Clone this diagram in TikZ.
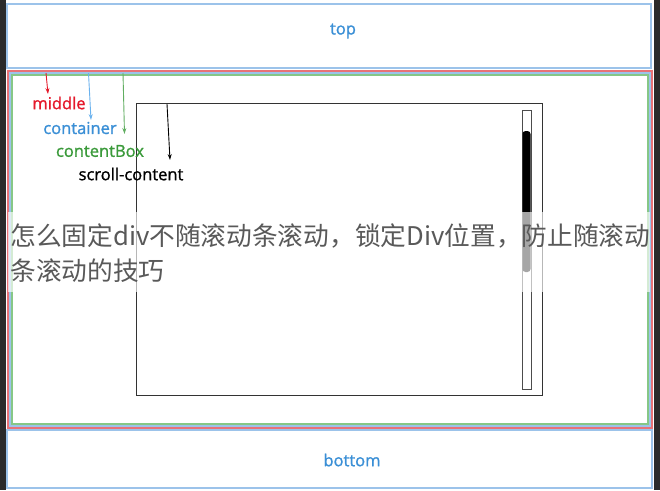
\documentclass[tikz,border=0pt]{standalone}
\usepackage{fontspec}
\usepackage{tikz}
\usetikzlibrary{arrows.meta, positioning}
\newfontfamily\labelfont[FakeBold=1.2]{Open Sans}
\newfontfamily\cjkfont{Noto Sans CJK SC}
\definecolor{frameblue}{HTML}{9CC3EA}
\definecolor{framered}{HTML}{E87277}
\definecolor{framegreen}{HTML}{86C786}
\definecolor{textblue}{HTML}{3A8FD6}
\definecolor{arrowblue}{HTML}{6AB2EE}
\definecolor{textred}{HTML}{E5192B}
\definecolor{textgreen}{HTML}{3A9A3A}
\definecolor{darkbg}{HTML}{2B2B2B}

\begin{document}
\begin{tikzpicture}[x=1pt, y=-1pt, ->, >={Stealth[length=6pt, width=4pt]}, semithick,
		box/.style={draw, rectangle, inner sep=0pt, outer sep=0pt, line width=1.2pt},
		lbl/.style={inner sep=0pt, font=\labelfont\fontsize{16.5}{18}\selectfont}]
		\useasboundingbox (0,0) rectangle (660,490);
		\fill[darkbg] (0,0) rectangle (660,490);
		\fill[white] (6,0) rectangle (654,490);

		% outer boxes
		\node[box, draw=frameblue, minimum width=644pt, minimum height=64pt]	(top) at (329,36) {};
		\node[box, draw=framered, minimum width=644pt, minimum height=357pt]		(middle) at (330,249.5) {};
		\node[box, draw=frameblue, minimum width=640pt, minimum height=353pt]	(container) at (330,249.5) {};
		\node[box, draw=framegreen, minimum width=636pt, minimum height=349pt]	(contentBox) at (330,249.5) {};
		\node[box, draw=frameblue, minimum width=645pt, minimum height=58pt]	(bottom) at (329.5,459) {};
		\node[lbl, text=textblue]	(top text) at (343,31) {top};
		\node[lbl, text=textblue]	(bottom text) at (352,460) {bottom};

		% scroll content with its scrollbar
		\node[box, draw=black!80, line width=0.8pt, minimum width=406pt, minimum height=292pt]	(scroll) at (339,249) {};
		\node[box, draw=black!70, line width=0.8pt, minimum width=9pt, minimum height=279pt]	(track) at (526.5,249.5) {};
		\node[fill=black, rounded corners=3pt, inner sep=0pt, minimum width=8pt, minimum height=141pt]	(thumb) at (526.5,201.5) {};

		% labels
		\node[lbl, text=textred]	(middle text) at (59,103) {middle};
		\node[lbl, text=textblue]	(container text) at (80,128) {container};
		\node[lbl, text=textgreen]	(contentBox text) at (100,151) {contentBox};
		\node[lbl, text=black]		(scroll text) at (131,174) {scroll-content};

		\coordinate (m0) at (46,73);
		\coordinate (m1) at (48,94);
		\coordinate (c0) at (88.5,73);
		\coordinate (c1) at (91,120);
		\coordinate (g0) at (123,73);
		\coordinate (g1) at (124.5,134);
		\coordinate (s0) at (167,104);
		\coordinate (s1) at (170,160);

		\path[line width=0.9pt]
				(m0) edge[textred] (m1)
				(c0) edge[arrowblue] (c1)
				(g0) edge[textgreen!80] (g1)
				(s0) edge[black] (s1);

		% title banner over the picture
		\fill[white, opacity=0.65] (8,212) rectangle (650,292);
		\node[anchor=west, inner sep=0pt, text=black!65, font=\cjkfont\fontsize{25.7}{30}\selectfont]	(title1) at (10,236) {怎么固定div不随滚动条滚动，锁定Div位置，防止随滚动};
		\node[anchor=west, inner sep=0pt, text=black!65, font=\cjkfont\fontsize{25.7}{30}\selectfont]	(title2) at (10,271) {条滚动的技巧};
	\end{tikzpicture}
\end{document}
